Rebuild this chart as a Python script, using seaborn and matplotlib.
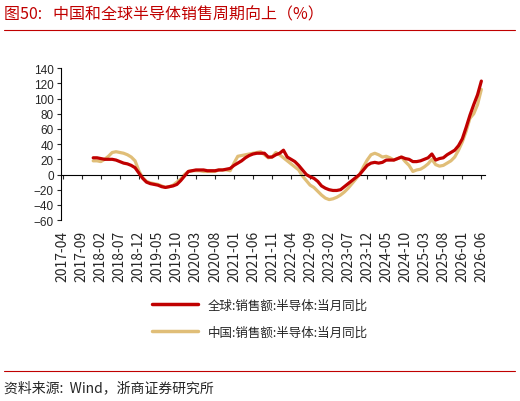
import matplotlib
matplotlib.use("Agg")
import matplotlib.pyplot as plt
import seaborn as sns
import pandas as pd
import numpy as np

sns.set_style("white")
plt.rcParams['font.family'] = ['Noto Sans CJK SC', 'DejaVu Sans']
plt.rcParams['axes.unicode_minus'] = True

tick_labels = ["2017-04","2017-09","2018-02","2018-07","2018-12","2019-05","2019-10","2020-03",
               "2020-08","2021-01","2021-06","2021-11","2022-04","2022-09","2023-02","2023-07",
               "2023-12","2024-05","2024-10","2025-03","2025-08","2026-01","2026-06"]
start_month = 8  # months after 2017-04 (2017-12)

global_yoy = [22,22,21,20,20,20,19,17,15,14,12,9,2,-5,-10,-12,-13,-14,-16,-17,-16,-15,-13,-8,-2,4,5,6,6,6,
              5,5,5,6,6,7,8,12,15,18,22,25,27,28,28,28,23,23,26,28,32,23,20,17,12,6,0,-3,-5,-9,
              -15,-18,-20,-21,-21,-20,-16,-12,-8,-4,0,6,12,15,16,15,16,19,19,19,21,23,21,20,17,17,18,20,22,27,
              19,21,22,26,29,32,38,47,62,78,92,105,123]
china_yoy = [18,18,17,20,24,29,30,29,28,26,23,18,5,-4,-9,-11,-12,-13,-15,-17,-16,-14,-10,-6,0,4,5,5,5,4,
             4,4,4,6,6,6,5,15,24,25,26,27,28,29,30,26,22,23,29,26,22,18,14,10,6,-2,-8,-14,-17,-22,
             -27,-31,-33,-32,-30,-27,-23,-18,-12,-6,0,10,19,26,28,26,23,24,22,19,21,23,17,12,4,6,7,10,14,20,
             13,11,12,15,18,23,32,43,57,74,80,92,112]
series_names = ["全球:销售额:半导体:当月同比", "中国:销售额:半导体:当月同比"]

df = pd.concat([
    pd.DataFrame({"m": start_month + np.arange(len(global_yoy)), "v": global_yoy, "s": series_names[0]}),
    pd.DataFrame({"m": start_month + np.arange(len(china_yoy)), "v": china_yoy, "s": series_names[1]}),
])

fig = plt.figure(figsize=(5.2, 4.02), dpi=100)
ax = fig.add_axes([0.117, 0.450, 0.816, 0.378])
sns.lineplot(data=df, x="m", y="v", hue="s", palette=["#C00000", "#E0BE78"], linewidth=2.3, ax=ax, legend=False)
ax.lines[0].set_zorder(3)

ax.set_xlim(-0.5, 111)
ax.set_ylim(-60, 140)
ax.set_yticks(range(-60, 141, 20))
ax.set_xticks(np.arange(0, 111, 5))
ax.set_xticklabels(tick_labels)
for t in ax.get_xticklabels() + ax.get_yticklabels():
    t.set_fontfamily(['Liberation Sans', 'DejaVu Sans'])
    t.set_fontsize(8.5)
ax.set_xlabel(""); ax.set_ylabel("")
for s in ["top", "right"]:
    ax.spines[s].set_visible(False)
ax.spines["bottom"].set_position(("data", 0))
ax.spines["bottom"].set_color("black"); ax.spines["left"].set_color("black")
ax.spines["bottom"].set_linewidth(0.8); ax.spines["left"].set_linewidth(0.8)
ax.tick_params(axis="x", direction="out", length=3, width=0.8, pad=37, bottom=True, labelrotation=90)
ax.tick_params(axis="y", direction="out", length=3, width=0.8, pad=2, left=True)

from matplotlib.lines import Line2D
handles = [Line2D([], [], color="#C00000", lw=2.5), Line2D([], [], color="#E0BE78", lw=2.5)]
fig.legend(handles, series_names, loc="center", bbox_to_anchor=(0.5, 0.205), frameon=False,
           fontsize=9, handlelength=3.7, labelspacing=1.1)

fig.text(0.008, 0.962, "图50:   中国和全球半导体销售周期向上（%）", color="#C00000", fontsize=11.5, va="center")
fig.add_artist(Line2D([0.008, 0.99], [0.922, 0.922], color="#C00000", lw=0.8))
fig.add_artist(Line2D([0.008, 0.99], [0.075, 0.075], color="#C00000", lw=0.8))
fig.text(0.008, 0.035, "资料来源:  Wind，浙商证券研究所", fontsize=10, va="center")

fig.savefig("out.png", dpi=100)
